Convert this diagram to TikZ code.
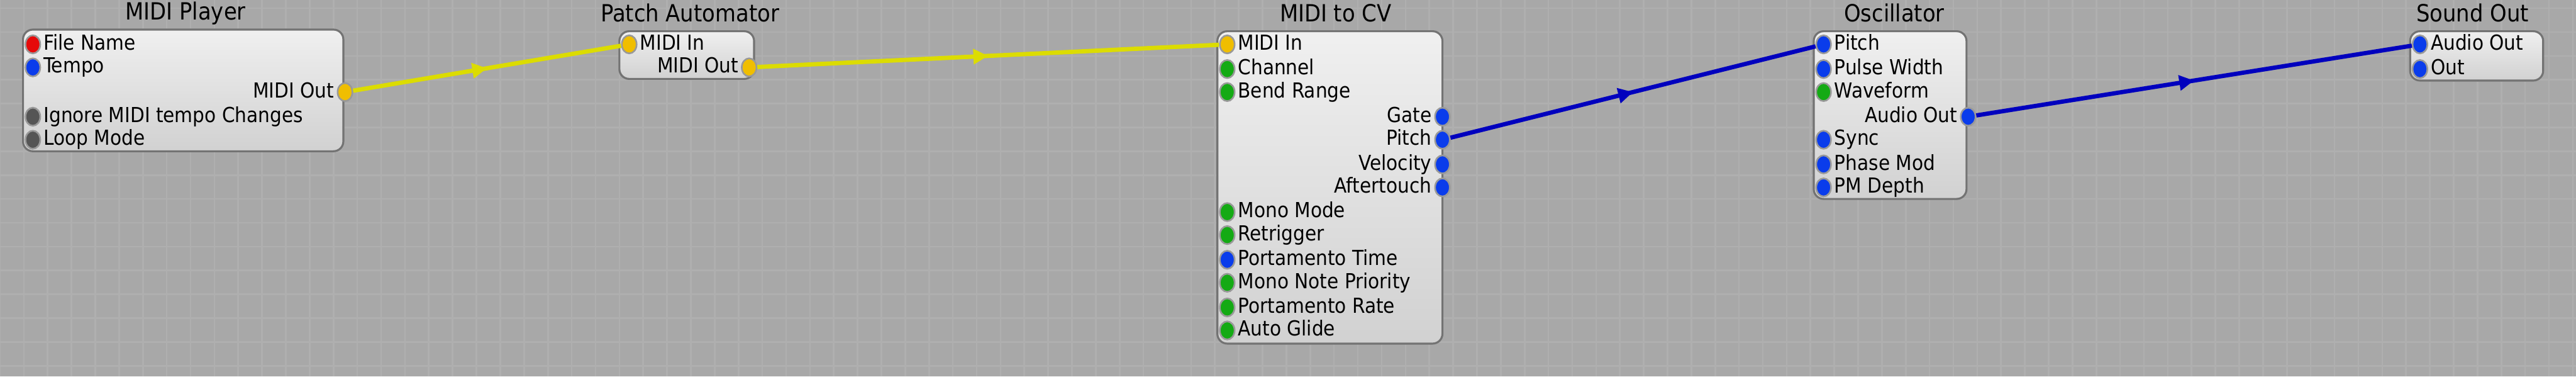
\documentclass[tikz,border=0pt]{standalone}
\usepackage{fontspec}
\setmainfont{DejaVu Sans Condensed}
\usetikzlibrary{shapes.geometric,decorations.markings,arrows.meta}
\definecolor{bg}{RGB}{168,168,168}
\definecolor{gridc}{RGB}{175,175,175}
\definecolor{pr}{RGB}{230,10,10}
\definecolor{pb}{RGB}{10,60,235}
\definecolor{pg}{RGB}{20,170,20}
\definecolor{py}{RGB}{240,190,0}
\definecolor{pk}{RGB}{85,85,85}
\definecolor{wy}{RGB}{220,220,0}
\definecolor{wb}{RGB}{0,0,190}
\begin{document}
\begin{tikzpicture}[x=0.5pt,y=-0.5pt,
  box/.style={draw=black!55,line width=0.6pt,rounded corners=3pt,top color=white!94!black,bottom color=white!82!black},
  title/.style={font=\fontsize{7.2}{8}\selectfont,text=black},
  lbl/.style={font=\fontsize{6.3}{7}\selectfont,inner sep=0.6pt,text height=4.6pt,text depth=1.2pt},
  port/.style={ellipse,draw=white!60!black,line width=0.5pt,fill=#1,minimum width=4.5pt,minimum height=5.5pt,inner sep=0pt},
  wire/.style={line width=1.3pt,draw=#1,postaction={decorate},decoration={markings,mark=at position 0.5 with {\arrow[#1]{Triangle[length=4.5pt,width=4.5pt]}}}}]
\useasboundingbox (0,0) rectangle (1568,229);
\fill[bg] (0,0) rectangle (1568,229);
\foreach \i in {0,14.5,...,1568} \draw[gridc,line width=0.5pt] (\i,0) -- (\i,229);
\foreach \j in {5,19.5,...,229} \draw[gridc,line width=0.5pt] (0,\j) -- (1568,\j);
% titles
\node[title] (t1) at (113,8) {MIDI Player};
\node[title] (t2) at (420,8) {Patch Automator};
\node[title] (t3) at (813,8) {MIDI to CV};
\node[title] (t4) at (1153,8) {Oscillator};
\node[title] (t5) at (1505,8) {Sound Out};
% boxes
\path[box] (14,18) rectangle (209,92);
\path[box] (377,19) rectangle (459,48);
\path[box] (741,19) rectangle (878,209);
\path[box] (1104,19) rectangle (1197,121);
\path[box] (1467,19) rectangle (1548,49);
% MIDI Player
\node[port=pr] (a1) at (20,27) {}; \node[lbl,anchor=west] at (a1.east) {File Name};
\node[port=pb] (a2) at (20,41) {}; \node[lbl,anchor=west] at (a2.east) {Tempo};
\node[port=py] (a3) at (210,56) {}; \node[lbl,anchor=east] at (a3.west) {MIDI Out};
\node[port=pk] (a4) at (20,71) {}; \node[lbl,anchor=west] at (a4.east) {Ignore MIDI tempo Changes};
\node[port=pk] (a5) at (20,85) {}; \node[lbl,anchor=west] at (a5.east) {Loop Mode};
% Patch Automator
\node[port=py] (b1) at (383,27) {}; \node[lbl,anchor=west] at (b1.east) {MIDI In};
\node[port=py] (b2) at (456,41) {}; \node[lbl,anchor=east] at (b2.west) {MIDI Out};
% MIDI to CV
\node[port=py] (c1) at (747,27) {}; \node[lbl,anchor=west] at (c1.east) {MIDI In};
\node[port=pg] (c2) at (747,42) {}; \node[lbl,anchor=west] at (c2.east) {Channel};
\node[port=pg] (c3) at (747,56) {}; \node[lbl,anchor=west] at (c3.east) {Bend Range};
\node[port=pb] (c4) at (878,71) {}; \node[lbl,anchor=east] at (c4.west) {Gate};
\node[port=pb] (c5) at (878,85) {}; \node[lbl,anchor=east] at (c5.west) {Pitch};
\node[port=pb] (c6) at (878,100) {}; \node[lbl,anchor=east] at (c6.west) {Velocity};
\node[port=pb] (c7) at (878,114) {}; \node[lbl,anchor=east] at (c7.west) {Aftertouch};
\node[port=pg] (c8) at (747,129) {}; \node[lbl,anchor=west] at (c8.east) {Mono Mode};
\node[port=pg] (c9) at (747,143) {}; \node[lbl,anchor=west] at (c9.east) {Retrigger};
\node[port=pb] (c10) at (747,158) {}; \node[lbl,anchor=west] at (c10.east) {Portamento Time};
\node[port=pg] (c11) at (747,172) {}; \node[lbl,anchor=west] at (c11.east) {Mono Note Priority};
\node[port=pg] (c12) at (747,187) {}; \node[lbl,anchor=west] at (c12.east) {Portamento Rate};
\node[port=pg] (c13) at (747,201) {}; \node[lbl,anchor=west] at (c13.east) {Auto Glide};
% Oscillator
\node[port=pb] (d1) at (1110,27) {}; \node[lbl,anchor=west] at (d1.east) {Pitch};
\node[port=pb] (d2) at (1110,42) {}; \node[lbl,anchor=west] at (d2.east) {Pulse Width};
\node[port=pg] (d3) at (1110,56) {}; \node[lbl,anchor=west] at (d3.east) {Waveform};
\node[port=pb] (d4) at (1198,71) {}; \node[lbl,anchor=east] at (d4.west) {Audio Out};
\node[port=pb] (d5) at (1110,85) {}; \node[lbl,anchor=west] at (d5.east) {Sync};
\node[port=pb] (d6) at (1110,100) {}; \node[lbl,anchor=west] at (d6.east) {Phase Mod};
\node[port=pb] (d7) at (1110,114) {}; \node[lbl,anchor=west] at (d7.east) {PM Depth};
% Sound Out
\node[port=pb] (e1) at (1473,27) {}; \node[lbl,anchor=west] at (e1.east) {Audio Out};
\node[port=pb] (e2) at (1473,42) {}; \node[lbl,anchor=west] at (e2.east) {Out};
% wires
\draw[wire=wy] (a3) -- (b1);
\draw[wire=wy] (b2) -- (c1);
\draw[wire=wb] (c5) -- (d1);
\draw[wire=wb] (d4) -- (e1);
\end{tikzpicture}
\end{document}
